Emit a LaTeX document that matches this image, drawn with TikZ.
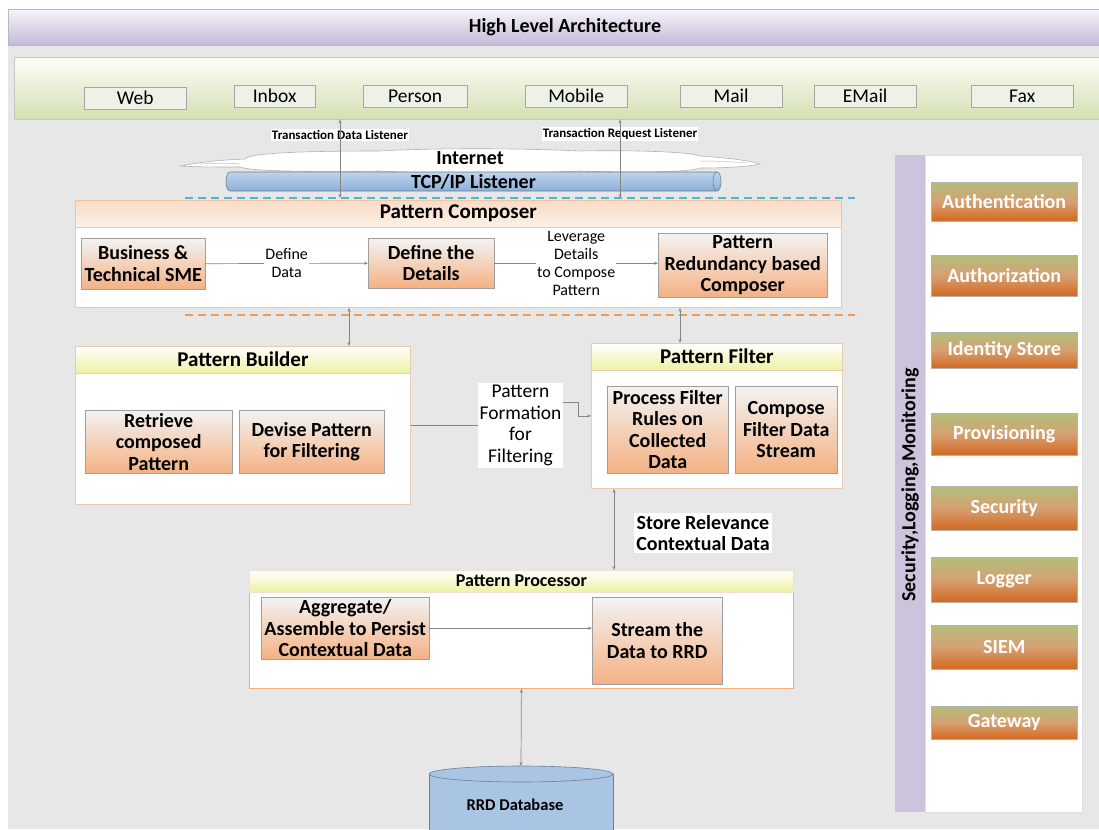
\documentclass[tikz,border=0pt]{standalone}
\usepackage{fontspec}
\setmainfont{Carlito}
\usetikzlibrary{arrows.meta}

\definecolor{pagegray}{HTML}{E7E7E7}
\definecolor{titletop}{HTML}{F6F3FA}
\definecolor{titlebot}{HTML}{C5BAD9}
\definecolor{chantop}{HTML}{FDFEFA}
\definecolor{chanbot}{HTML}{D3DFB2}
\definecolor{chanbox}{HTML}{EEF2E6}
\definecolor{edgegray}{HTML}{858585}
\definecolor{peachtop}{HTML}{F9DBC5}
\definecolor{peachbot}{HTML}{FDF1E7}
\definecolor{peachline}{HTML}{F2C4A0}
\definecolor{yellowbot}{HTML}{EFF1A2}
\definecolor{tanline}{HTML}{E9CDB0}
\definecolor{orangeline}{HTML}{F0AE7A}
\definecolor{steptop}{HTML}{F3F3F3}
\definecolor{stepbot}{HTML}{F4B183}
\definecolor{tubetop}{HTML}{BED4EC}
\definecolor{tubebot}{HTML}{8CAFD7}
\definecolor{tubeline}{HTML}{6E7F95}
\definecolor{dbfill}{HTML}{A9C5E3}
\definecolor{cyandash}{HTML}{4BB7D6}
\definecolor{orangedash}{HTML}{EE9B5C}
\definecolor{sidepurple}{HTML}{CCC3DD}
\definecolor{secgreen}{HTML}{B2BE7C}
\definecolor{secmid}{HTML}{D6A072}
\definecolor{secorange}{HTML}{D3681F}

\begin{document}
\begin{tikzpicture}[x=1pt, y=-1pt, >={Stealth[length=4pt,width=3pt]},
    every node/.style={font=\fontsize{20}{21.5}\selectfont, align=center, inner sep=1pt},
    bar/.style={anchor=north west, draw=gray!55},
    channel/.style={draw=gray!70, fill=chanbox, font=\fontsize{19.5}{21}\selectfont, minimum height=22pt, anchor=north west},
    frame/.style={draw=tanline, fill=white, line width=0.8pt, anchor=north west},
    headpeach/.style={draw=peachline, top color=peachtop, bottom color=peachbot, anchor=north, font=\fontsize{21}{23}\selectfont\bfseries, minimum height=27pt},
    headyellow/.style={draw=tanline, top color=white, bottom color=yellowbot, anchor=north, font=\fontsize{21}{23}\selectfont\bfseries},
    stepbox/.style={draw=gray!75, top color=steptop, bottom color=stepbot, font=\fontsize{20}{21.5}\selectfont\bfseries, anchor=north west},
    tag/.style={fill=white, font=\fontsize{16}{18}\selectfont},
    listen/.style={fill=white, font=\fontsize{13}{15}\selectfont\bfseries},
    secbox/.style={draw=gray!60, top color=secgreen, bottom color=secorange, middle color=secmid, text=white, font=\fontsize{20}{22}\selectfont\bfseries, minimum width=146pt, anchor=north west},
    link/.style={draw=edgegray, line width=0.7pt},
]
    \useasboundingbox (0,0) rectangle (1099,829);
    \clip (0,0) rectangle (1099,829);
    \fill[white] (0,0) rectangle (1099,829);
    \fill[pagegray] (8,9) rectangle (1099,829);

    % Bars
    \node (title_bar) at (8,9) [bar, top color=titletop, bottom color=titlebot, minimum width=1100pt, minimum height=36pt] {};
    \node (title) at (565,27) {\fontsize{20}{22}\selectfont\bfseries High Level Architecture};
    \node (channels) at (14,57) [bar, draw=gray!45, top color=chantop, bottom color=chanbot, minimum width=1095pt, minimum height=62pt] {};

    % Channels
    \node (web) at (84,87) [channel, minimum width=102pt] {Web};
    \node (inbox) at (234,85) [channel, minimum width=81pt] {Inbox};
    \node (person) at (363,85) [channel, minimum width=104pt] {Person};
    \node (mobile) at (525,85) [channel, minimum width=102pt] {Mobile};
    \node (mail) at (680,85) [channel, minimum width=102pt] {Mail};
    \node (email) at (814,85) [channel, minimum width=102pt] {EMail};
    \node (fax) at (971,85) [channel, minimum width=102pt] {Fax};

    % Listeners
    \node (data_listener) at (340,135) [listen] {Transaction Data Listener};
    \node (request_listener) at (620,134) [listen] {Transaction Request Listener};
    \draw[draw=gray!60, fill=white, line width=0.6pt] (181,166) .. controls (200,162) and (220,160) .. (245,159)
        .. controls (250,153) and (300,151) .. (380,151)
        .. controls (430,148) and (520,148) .. (580,151)
        .. controls (640,150) and (690,152) .. (700,156)
        .. controls (730,158) and (752,161) .. (760,164)
        .. controls (745,167) and (725,168) .. (700,168)
        .. controls (690,172) and (640,173) .. (580,171)
        .. controls (520,174) and (430,174) .. (380,171)
        .. controls (300,172) and (250,171) .. (240,167)
        .. controls (215,167) and (195,167) .. (181,166) -- cycle;
    \draw[draw=gray!50, line width=0.5pt] (200,164) .. controls (215,163) and (228,163) .. (240,164);
    \draw[draw=gray!50, line width=0.5pt] (700,161) .. controls (720,161) and (735,162) .. (748,163);
    \node (internet) at (470,158) {\bfseries Internet};
    \shade[top color=tubetop, bottom color=tubebot] (230,172) -- (717,172)
        .. controls (722.3,172) and (722.3,191) .. (717,191) -- (230,191)
        .. controls (224.7,191) and (224.7,172) .. (230,172) -- cycle;
    \draw[tubeline, line width=0.6pt] (230,172) -- (717,172)
        .. controls (722.3,172) and (722.3,191) .. (717,191) -- (230,191)
        .. controls (224.7,191) and (224.7,172) .. (230,172) -- cycle;
    \draw[tubeline, line width=0.6pt] (717,172) .. controls (711.7,172) and (711.7,191) .. (717,191);
    \node (tcp) at (473.5,181.5) {\bfseries TCP/IP Listener};
    \coordinate (blue_l) at (185,198);
    \coordinate (blue_r) at (855,198);
    \draw[cyandash, line width=1.4pt, dash pattern=on 8pt off 5pt] (blue_l) -- (blue_r);

    % Pattern Composer
    \node (composer) at (75,200) [frame, draw=peachline, minimum width=766pt, minimum height=107pt] {};
    \node (composer_head) at (composer.north) [headpeach, minimum width=766pt] {Pattern Composer};
    \node (sme) at (81,238) [stepbox, minimum width=124pt, minimum height=51pt] {Business \&\\Technical SME};
    \node (details) at (368,238) [stepbox, minimum width=126pt, minimum height=50pt] {Define the\\Details};
    \node (redundancy) at (658,233) [stepbox, minimum width=169pt, minimum height=64pt] {Pattern\\Redundancy based\\Composer};
    \coordinate (orange_l) at (185,315);
    \coordinate (orange_r) at (855,315);
    \draw[orangedash, line width=1.4pt, dash pattern=on 8pt off 5pt] (orange_l) -- (orange_r);

    % Pattern Builder
    \node (builder) at (75,346) [frame, minimum width=335pt, minimum height=158pt] {};
    \node (builder_head) at (builder.north) [headyellow, minimum width=335pt, minimum height=27pt] {Pattern Builder};
    \node (retrieve) at (85,410) [stepbox, minimum width=147pt, minimum height=63pt] {Retrieve\\composed\\Pattern};
    \node (devise) at (239,410) [stepbox, minimum width=145pt, minimum height=63pt] {Devise Pattern\\for Filtering};
    \node (formation) at (520.5,425.5) [fill=white, minimum width=85pt, minimum height=85pt, font=\fontsize{19.5}{21.5}\selectfont] {Pattern\\Formation\\for\\Filtering};

    % Pattern Filter
    \node (filter) at (591,343) [frame, minimum width=251pt, minimum height=145pt] {};
    \node (filter_head) at (filter.north) [headyellow, minimum width=251pt, minimum height=27pt] {Pattern Filter};
    \node (process) at (607,386) [stepbox, minimum width=121pt, minimum height=87pt] {Process Filter\\Rules on\\Collected\\Data};
    \node (compose) at (735,386) [stepbox, minimum width=102pt, minimum height=87pt] {Compose\\Filter Data\\Stream};
    \node (relevance) at (703,533) [fill=white, font=\fontsize{20}{21.5}\selectfont\bfseries, inner sep=2pt] {Store Relevance\\Contextual Data};

    % Pattern Processor
    \node (processor) at (249,570) [frame, draw=orangeline, minimum width=544pt, minimum height=118pt] {};
    \node (processor_head) at (processor.north) [headyellow, draw=tanline!60, minimum width=544pt, minimum height=22pt, font=\fontsize{18}{20}\selectfont\bfseries] {Pattern Processor};
    \node (aggregate) at (261,597) [stepbox, minimum width=168pt, minimum height=62pt] {Aggregate/\\Assemble to Persist\\Contextual Data};
    \node (stream) at (592,597) [stepbox, minimum width=130pt, minimum height=87pt] {Stream the\\Data to RRD};

    % RRD Database
    \fill[dbfill] (429,774) rectangle (613,845);
    \draw[tubeline, line width=0.6pt] (429,774) -- (429,845) (613,774) -- (613,845);
    \filldraw[fill=dbfill, draw=tubeline, line width=0.6pt] (521,774) ellipse [x radius=92, y radius=8];
    \coordinate (db_top) at (521,766);
    \node (db) at (515,805) {\fontsize{16.5}{18}\selectfont\bfseries RRD Database};

    % Security panel
    \node (side_strip) at (895,155) [anchor=north west, fill=sidepurple, minimum width=30pt, minimum height=657pt] {};
    \node (side_panel) at (925,155) [anchor=north west, fill=white, draw=gray!25, minimum width=157pt, minimum height=657pt] {};
    \node (slm) at (910,485) [rotate=90] {\bfseries Security,Logging,Monitoring};
    \node (authentication) at (931,182) [secbox, minimum height=39pt] {Authentication};
    \node (authorization) at (931,255) [secbox, minimum height=41pt] {Authorization};
    \node (identity) at (931,332) [secbox, minimum height=36pt] {Identity Store};
    \node (provisioning) at (931,413) [secbox, minimum height=42pt] {Provisioning};
    \node (security) at (931,486) [secbox, minimum height=44pt] {Security};
    \node (logger) at (931,557) [secbox, minimum height=45pt] {Logger};
    \node (siem) at (931,625) [secbox, minimum height=44pt] {SIEM};
    \node (gateway) at (931,706) [secbox, minimum height=33pt] {Gateway};

    % Edges
    \coordinate (cb) at (349,0);
    \coordinate (cf) at (680,0);
    \coordinate (fp) at (614,0);
    \draw[link, <->] (channels.south -| data_listener) -- (blue_l -| data_listener);
    \draw[link, <->] (channels.south -| request_listener) -- (blue_l -| request_listener);
    \draw[link, ->] (sme.east) -- (details.west) node[midway, tag] (define_data) {Define\\Data};
    \draw[link, ->] (details.east) -- (details.east -| redundancy.west) node[midway, tag] (leverage) {Leverage\\Details\\to Compose\\Pattern};
    \draw[link, <->] (composer.south -| cb) -- (builder.north -| cb);
    \draw[link, <->] (composer.south -| cf) -- (filter.north -| cf);
    \draw[link] (builder.east) -- (formation.west);
    \draw[link, ->] ([yshift=23pt]formation.east) -- ++(15,0) |- (filter.west);
    \draw[link, <->] (filter.south -| fp) -- (processor.north -| fp);
    \draw[link, ->] (aggregate.east) -- (aggregate.east -| stream.west);
    \draw[link, <->] (processor.south) -- (db_top);

\end{tikzpicture}
\end{document}
